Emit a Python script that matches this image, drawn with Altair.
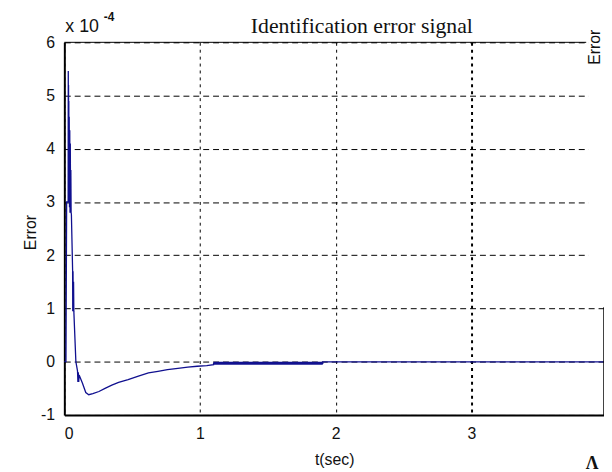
import altair as alt
import pandas as pd

# ---- data (error values in units of 1e-4) ----
t_main = [0, 0.012, 0.017, 0.028, 0.029, 0.030, 0.031, 0.032, 0.033, 0.034, 0.036, 0.038,
          0.040, 0.042, 0.044, 0.046, 0.048, 0.050, 0.052, 0.061, 0.062, 0.064, 0.066, 0.068,
          0.070, 0.085, 0.097, 0.100, 0.103, 0.106, 0.109, 0.133, 0.158, 0.180, 0.210, 0.255,
          0.300, 0.350, 0.400, 0.470, 0.546, 0.620, 0.690, 0.760, 0.837, 0.910, 0.980, 1.050,
          1.100, 1.100, 1.905, 1.905, 2.500, 3.000, 3.500, 4.000]
e_main = [0, 0, 3.0, 3.0, 5.46, 3.0, 5.2, 3.0, 4.9, 3.0, 4.6, 2.9,
          4.35, 2.8, 4.1, 2.8, 3.6, 2.8, 2.77, 1.72, 0.95, 1.7, 0.95, 1.5,
          0.95, 0.0, -0.17, -0.38, -0.20, -0.38, -0.25, -0.40, -0.58, -0.62, -0.60, -0.56,
          -0.50, -0.44, -0.39, -0.335, -0.27, -0.21, -0.18, -0.15, -0.125, -0.10, -0.085, -0.075,
          -0.056, -0.03, -0.03, -0.005, -0.005, -0.005, -0.005, -0.005]
t_band = [1.10, 1.905]
e_band = [-0.03, -0.03]

x_ticks = [0, 1, 2, 3]
y_ticks = [-1, 0, 1, 2, 3, 4, 5, 6]

title_text = "Identification error signal"
x_title = "t(sec)"
y_title = "Error"
mult_text = "x 10"
mult_exp = "-4"
side_text = "Error"
corner_text = "Λ"

W, H = 546, 377
LINE = "#10108f"

main_df = pd.DataFrame({"t": t_main, "e": e_main, "i": list(range(len(t_main)))})
band_df = pd.DataFrame({"t": t_band, "e": e_band})

xs = alt.Scale(domain=[0, 3.978], nice=False, zero=False)
ys = alt.Scale(domain=[-1, 6], nice=False, zero=False)

x_axis = alt.Axis(values=x_ticks, labelExpr="'' + datum.value", grid=True, gridDash=[3, 4],
                  gridColor="#000", gridOpacity=1,
                  gridWidth=alt.condition("datum.value == 3", alt.value(2), alt.value(1)),
                  ticks=False, labelPadding=11, title=x_title,
                  titlePadding=10, domainWidth=2, domainColor="#000")
y_axis = alt.Axis(values=y_ticks, labelExpr="'' + datum.value", grid=True, gridDash=[6, 4],
                  gridColor="#000", gridOpacity=1, gridWidth=1, ticks=False, labelPadding=10,
                  title=y_title, titleX=-26, titleY=192, domainWidth=2, domainColor="#000")

base = alt.Chart(main_df).mark_line(color=LINE, strokeWidth=1.3).encode(
    x=alt.X("t:Q", scale=xs, axis=x_axis),
    y=alt.Y("e:Q", scale=ys, axis=y_axis),
    order="i:Q",
)

band = alt.Chart(band_df).mark_line(color=LINE, strokeWidth=3).encode(
    x=alt.X("t:Q", scale=xs),
    y=alt.Y("e:Q", scale=ys),
)

def label(txt, x, y, size, font="Liberation Sans", align="left", baseline="alphabetic",
          angle=0, weight="normal"):
    return alt.Chart(pd.DataFrame({"s": [txt]})).mark_text(
        font=font, fontSize=size, align=align, baseline=baseline, angle=angle,
        fontWeight=weight, color="#111").encode(
        text="s:N", x=alt.value(x), y=alt.value(y))

title = label(title_text, 301, -9, 22, font="Liberation Serif", align="center")
mult = label(mult_text, 1, -10, 18)
expo = label(mult_exp, 40, -22, 12, weight="bold")

mask = alt.Chart(pd.DataFrame({"k": [0]})).mark_rect(color="white").encode(
    x=alt.value(530), x2=alt.value(560), y=alt.value(-45), y2=alt.value(267))
top_border = alt.Chart(pd.DataFrame({"k": [0]})).mark_rule(color="#000", strokeWidth=1).encode(
    x=alt.value(0), x2=alt.value(528), y=alt.value(0))
right_border = alt.Chart(pd.DataFrame({"k": [0]})).mark_rule(color="#000", strokeWidth=1.5).encode(
    x=alt.value(546), y=alt.value(268), y2=alt.value(377))
side = label(side_text, 537, 5, 16, align="center", baseline="middle", angle=270)
corner = label(corner_text, 534, 418, 18, font="Liberation Serif", align="center",
               baseline="top", weight="bold")

chart = alt.layer(base, band, mask, top_border, right_border, title, mult, expo, side,
                  corner).properties(
    width=W, height=H,
    autosize=alt.AutoSizeParams(type="none"),
    padding={"left": 57, "top": 32, "right": 0, "bottom": 55},
).configure_view(strokeWidth=0).configure_axis(
    labelFont="Liberation Sans", labelFontSize=16, labelColor="#111",
    titleFont="Liberation Sans", titleFontSize=16, titleFontWeight="normal", titleColor="#111",
)

chart.save("out.html", embed_options={"renderer": "svg", "actions": False})
